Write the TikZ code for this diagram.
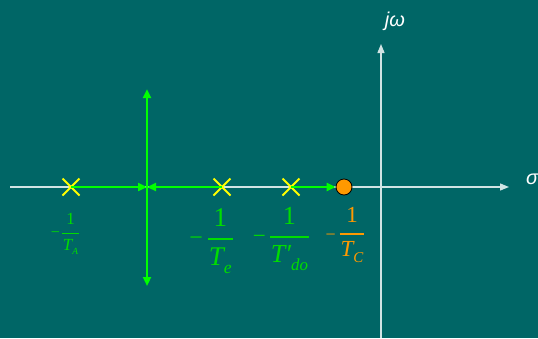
\documentclass[tikz,border=0pt]{standalone}
\usepackage{fontspec}
\setmainfont{Liberation Serif}
\newfontfamily\axfont{Liberation Sans}
\usetikzlibrary{arrows.meta,shapes.misc}
\definecolor{bg}{HTML}{006666}
\definecolor{locus}{HTML}{00FF00}
\definecolor{lab}{HTML}{00DD00}
\definecolor{poleyel}{HTML}{FFFF00}
\definecolor{zorange}{HTML}{FF9900}
\definecolor{axcol}{HTML}{D0E4E4}
\newcommand\sizeto[1]{\fontsize{#1}{#1}\selectfont}
% \negfr{minus size}{fraction size}{gap}{denominator}
\newcommand\negfr[4]{{\sizeto{#1}−}\hspace{#3}{\sizeto{#2}%
  \setlength\arrayrulewidth{1.3pt}\renewcommand\arraystretch{1.25}%
  \begin{tabular}{@{\kern1pt}c@{\kern1pt}}1\\[2pt]\hline\rule{0pt}{0.95em}\itshape #4\end{tabular}}}
\tikzset{
  pole/.style={cross out,draw=poleyel,line width=2pt,minimum size=15pt,inner sep=0pt},
  zerodot/.style={circle,fill=zorange,draw=black,line width=0.8pt,minimum size=16pt,inner sep=0pt},
  axis/.style={draw=axcol,line width=1.3pt,-{Triangle[length=9pt,width=7pt]}},
  lpath/.style={draw=locus,line width=2.6pt,-{Triangle[length=9pt,width=8pt]}},
  axlab/.style={text=white,font=\axfont\itshape\sizeto{20}},
  flab/.style={inner sep=0pt},
}
\begin{document}
\begin{tikzpicture}[x=1pt,y=-1pt]
\fill[bg] (0,0) rectangle (538,338);
\useasboundingbox (0,0) rectangle (538,338);
% axes
\coordinate (xl) at (10,187);
\coordinate (xr) at (509,187);
\coordinate (yb) at (381,338);
\coordinate (yt) at (381,44);
\draw[axis] (xl) -- (xr);
\draw[axis] (yb) -- (yt);
\node[axlab] (jw) at (395,21) {jω};
\node[axlab,anchor=west,inner sep=0pt] (sig) at (526,179) {σ};
% poles and zero
\node[pole] (pA) at (71,187) {};
\node[pole] (pE) at (222,187) {};
\node[pole] (pD) at (291,187) {};
\node[zerodot] (zC) at (344,187) {};
\coordinate (bk) at (147,187);
\coordinate (up) at (147,89);
\coordinate (dn) at (147,286);
% locus
\draw[lpath] (pA.center) -- (bk);
\draw[lpath] (pE.center) -- (bk);
\draw[lpath] (pD.center) -- (zC.west);
\draw[lpath] (bk) -- (up);
\draw[lpath] (bk) -- (dn);
% labels
\node[flab,text=lab] (lA) at (65,233) {\negfr{16}{17}{2pt}{T\raisebox{-0.25em}{\scalebox{0.55}{A}}}};
\node[flab,text=lab] (lE) at (211,239) {\negfr{24}{27}{5pt}{T\raisebox{-0.3em}{\scalebox{0.65}{e}}}};
\node[flab,text=lab] (lD) at (281,237) {\negfr{23}{26}{4pt}{T′\raisebox{-0.3em}{\scalebox{0.65}{do}}}};
\node[flab,text=zorange] (lC) at (345,234) {\negfr{18}{23}{4pt}{T\raisebox{-0.25em}{\scalebox{0.65}{C}}}};
\end{tikzpicture}
\end{document}
